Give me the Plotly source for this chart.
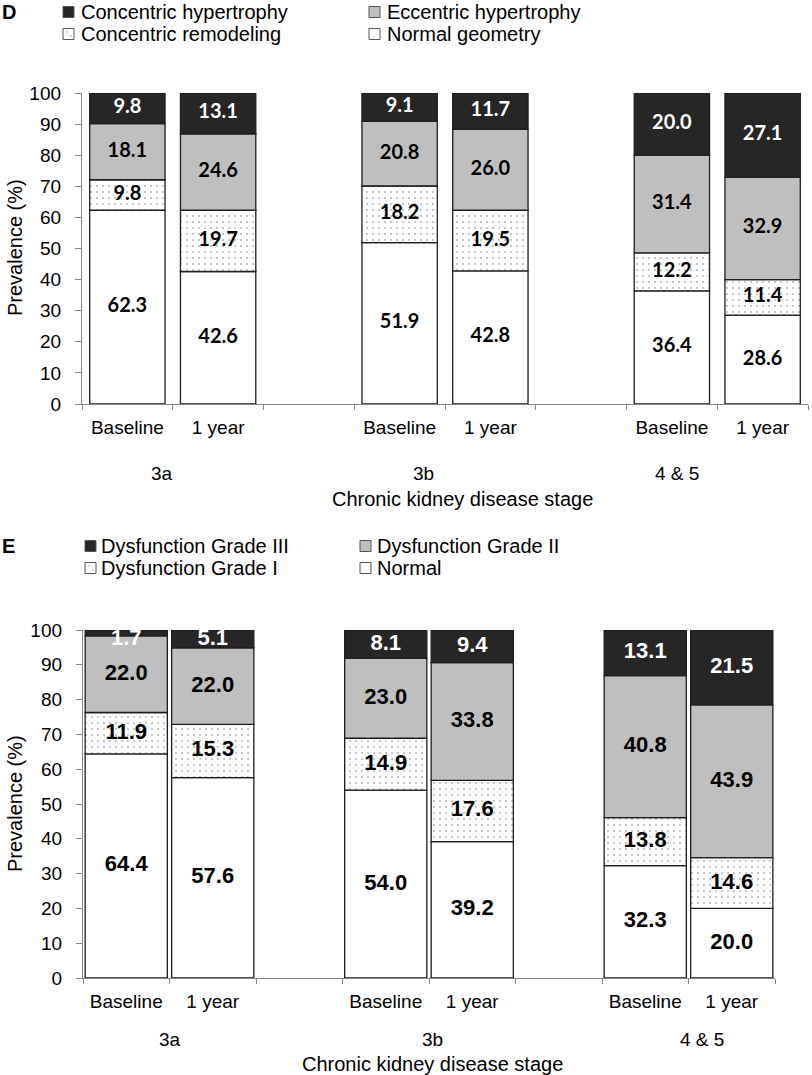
import numpy as np
import plotly.graph_objects as go

# ---------------- data ----------------
SLOTS = ["3a Baseline", "3a 1 year", "gap 1", "3b Baseline", "3b 1 year", "gap 2",
         "4&5 Baseline", "4&5 1 year"]
SLOT_LABELS = ["Baseline", "1 year", "", "Baseline", "1 year", "", "Baseline", "1 year"]
BAR_SLOTS = ["3a Baseline", "3a 1 year", "3b Baseline", "3b 1 year", "4&5 Baseline", "4&5 1 year"]
STAGES = ["3a", "3b", "4 & 5"]
Y_TICKS = [0, 10, 20, 30, 40, 50, 60, 70, 80, 90, 100]

# Panel D: LV geometry
D_NAMES = ["Normal geometry", "Concentric remodeling", "Eccentric hypertrophy", "Concentric hypertrophy"]
D_NORMAL = [62.3, 42.6, 51.9, 42.8, 36.4, 28.6]
D_REMOD = [9.8, 19.7, 18.2, 19.5, 12.2, 11.4]
D_ECC = [18.1, 24.6, 20.8, 26.0, 31.4, 32.9]
D_CONC = [9.8, 13.1, 9.1, 11.7, 20.0, 27.1]

# Panel E: diastolic function
E_NAMES = ["Normal", "Dysfunction Grade I", "Dysfunction Grade II", "Dysfunction Grade III"]
E_NORMAL = [64.4, 57.6, 54.0, 39.2, 32.3, 20.0]
E_G1 = [11.9, 15.3, 14.9, 17.6, 13.8, 14.6]
E_G2 = [22.0, 22.0, 23.0, 33.8, 40.8, 43.9]
E_G3 = [1.7, 5.1, 8.1, 9.4, 13.1, 21.5]

# ---------------- style ----------------
W, H = 812, 1075
FONT = "Liberation Sans, Arial, sans-serif"
AX_GRAY = "#868686"
EDGE = "#1e1e1e"
DARK = "#262626"
GRAY = "#bfbfbf"


def px(x):
    return x / W


def py(y):
    return 1 - y / H


def seg_style(i):
    if i == 0:
        return dict(color="white")
    if i == 1:
        return dict(color="white", pattern=dict(shape=".", fgcolor="#666666", bgcolor="white",
                                                size=6, solidity=0.04))
    if i == 2:
        return dict(color=GRAY)
    return dict(color=DARK)


fig = go.Figure()


def add_panel(series, names, xa, ya, label_font, label_size, width, top_clip=None):
    base = np.zeros(len(BAR_SLOTS))
    for i, (vals, name) in enumerate(zip(series, names)):
        vals = np.array(vals)
        m = seg_style(i)
        m["line"] = dict(color=EDGE, width=1.3)
        fig.add_trace(go.Bar(x=BAR_SLOTS, y=vals, base=base, name=name, marker=m, width=width,
                             xaxis=xa, yaxis=ya, showlegend=False, hoverinfo="skip"))
        mid = base + vals / 2
        if top_clip is not None:
            mid = np.minimum(mid, top_clip)
        color = "white" if i == 3 else "black"
        fig.add_trace(go.Scatter(x=BAR_SLOTS, y=mid, mode="text",
                                 text=[f"{v:.1f}" for v in vals],
                                 textfont=dict(family=label_font, size=label_size, color=color,
                                               weight="bold"),
                                 xaxis=xa, yaxis=ya, showlegend=False, hoverinfo="skip",
                                 cliponaxis=False))
        base = base + vals


add_panel([D_NORMAL, D_REMOD, D_ECC, D_CONC], D_NAMES, "x", "y", "Lato, Carlito, sans-serif", 20, 0.83)
add_panel([E_NORMAL, E_G1, E_G2, E_G3], E_NAMES, "x2", "y2", FONT, 22, 0.95, top_clip=97.4)

xcommon = dict(type="category", categoryorder="array", categoryarray=SLOTS,
               tickmode="array", tickvals=SLOTS, ticktext=SLOT_LABELS,
               tickson="boundaries", ticks="outside", ticklen=5, tickcolor=AX_GRAY,
               showline=True, linecolor=AX_GRAY, linewidth=1.3, showgrid=False, zeroline=False,
               tickfont=dict(family=FONT, size=19, color="black"), ticklabelstandoff=6,
               range=[-0.5, 7.5], fixedrange=True, automargin=False)
ycommon = dict(range=[0, 100], tickmode="array", tickvals=Y_TICKS, ticks="outside", ticklen=6,
               tickcolor=AX_GRAY, showline=True, linecolor=AX_GRAY, linewidth=1.3,
               showgrid=False, zeroline=False, tickfont=dict(family=FONT, size=19, color="black"),
               ticklabelstandoff=10, fixedrange=True, automargin=False)

fig.update_layout(
    template="none",
    width=W, height=H, margin=dict(l=0, r=0, t=0, b=0, pad=0, autoexpand=False),
    paper_bgcolor="white", plot_bgcolor="white",
    barmode="overlay", showlegend=False,
    xaxis=dict(xcommon, domain=[px(82), px(808)], anchor="y"),
    yaxis=dict(ycommon, domain=[py(404), py(93)], anchor="x"),
    xaxis2=dict(xcommon, domain=[px(83), px(775)], anchor="y2"),
    yaxis2=dict(ycommon, domain=[py(978), py(630)], anchor="x2"),
)

ann = []
shapes = []


def txt(x, y, s, size=19, anchor="center", bold=False, angle=0):
    ann.append(dict(x=px(x), y=py(y), xref="paper", yref="paper", text=f"<b>{s}</b>" if bold else s,
                    showarrow=False, xanchor=anchor, yanchor="middle", textangle=angle,
                    font=dict(family=FONT, size=size, color="black")))


def legend_box(x, y, fill, dotted=False):
    shapes.append(dict(type="rect", xref="paper", yref="paper", x0=px(x), x1=px(x + 11),
                       y0=py(y + 5.5), y1=py(y - 5.5), fillcolor=fill,
                       line=dict(color="#555555", width=1)))
    if dotted:
        for dx, dy in [(3.5, -2), (7.5, 2)]:
            shapes.append(dict(type="rect", xref="paper", yref="paper", x0=px(x + dx), x1=px(x + dx + 1),
                               y0=py(y + dy + 0.5), y1=py(y + dy - 0.5), fillcolor="#555555",
                               line=dict(width=0)))


# Panel D legend
txt(0, 12, "D", size=20, anchor="left", bold=True)
legend_box(63, 12, DARK)
txt(79, 12, D_NAMES[3], size=20, anchor="left")
legend_box(369, 12, GRAY)
txt(385, 12, D_NAMES[2], size=20, anchor="left")
legend_box(63, 34, "white", dotted=True)
txt(79, 34, D_NAMES[1], size=20, anchor="left")
legend_box(369, 34, "white")
txt(385, 34, D_NAMES[0], size=20, anchor="left")

# Panel E legend
txt(0, 546, "E", size=20, anchor="left", bold=True)
legend_box(85, 546, DARK)
txt(99, 546, E_NAMES[3], size=20, anchor="left")
legend_box(360, 546, GRAY)
txt(375, 546, E_NAMES[2], size=20, anchor="left")
legend_box(85, 568, "white", dotted=True)
txt(99, 568, E_NAMES[1], size=20, anchor="left")
legend_box(360, 568, "white")
txt(375, 568, E_NAMES[0], size=20, anchor="left")

# group labels and axis titles
for s, xd, xe in zip(STAGES, [162, 423, 677], [170, 432, 702]):
    txt(xd, 474, s)
    txt(xe, 1039, s)
txt(462, 499, "Chronic kidney disease stage", size=20)
txt(432, 1064, "Chronic kidney disease stage", size=20)
txt(15, 248, "Prevalence (%)", size=20, angle=-90)
txt(15, 804, "Prevalence (%)", size=20, angle=-90)

fig.update_layout(annotations=ann, shapes=shapes)
fig.write_html("out.html", config={"displayModeBar": False},
               post_script="document.body.style.margin='0';document.body.style.overflow='hidden';")
